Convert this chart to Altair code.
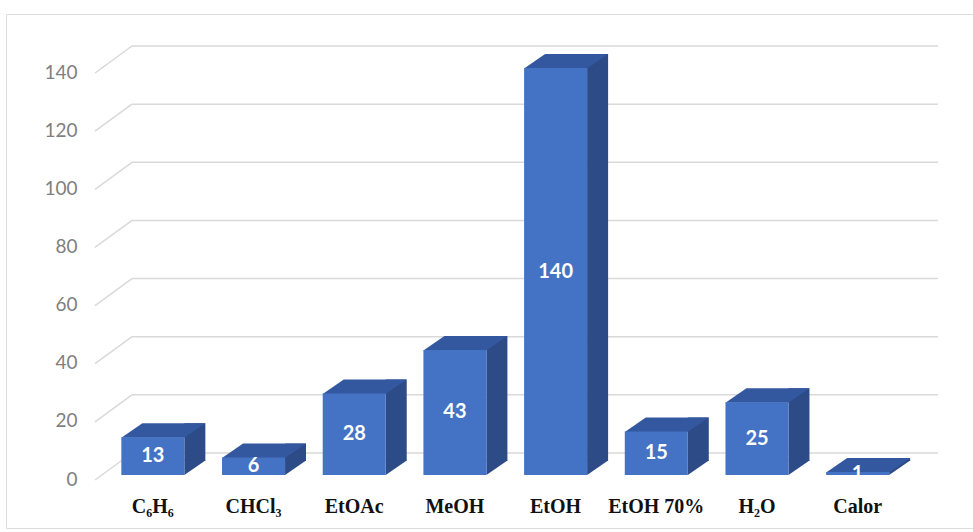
import altair as alt
import pandas as pd

categories = ["C₆H₆", "CHCl₃", "EtOAc", "MeOH", "EtOH", "EtOH 70%", "H₂O", "Calor"]
values = [13, 6, 28, 43, 140, 15, 25, 1]
y_ticks = [0, 20, 40, 60, 80, 100, 120, 140]

df = pd.DataFrame({"cat": categories, "val": values})
df["mid"] = df["val"] / 2
ticks_df = pd.DataFrame({"t": y_ticks})

FRONT = "#4472C4"
TOP = "#34589F"
SIDE = "#2C4B87"
GRID = "#D9D9D9"

x_enc = alt.X("cat:N", sort=categories,
              scale=alt.Scale(range=[96.5, 902], paddingInner=0, paddingOuter=0),
              axis=alt.Axis(title=None, labelAngle=0, domain=False, ticks=False, tickSize=0,
                            labelFont="Liberation Serif", labelFontWeight="bold",
                            labelFontSize=20, labelColor="#111111", labelPadding=2,
                            labelBaseline="alphabetic", offset=-18, grid=False))
y_scale = alt.Scale(domain=[0, 140], range=[461, 54], nice=False, zero=True)
y_axis = alt.Axis(title=None, values=y_ticks, domain=False, ticks=False, tickSize=0,
                  grid=False, labelFont="Lato", labelFontSize=19,
                  labelColor="#7F7F7F", labelPadding=2, offset=-73, labelOffset=4)

# back wall grid lines
back = alt.Chart(ticks_df).mark_rule(color=GRID, strokeWidth=1.5, yOffset=-22).encode(
    y=alt.Y("t:Q", scale=y_scale, axis=y_axis),
    x=alt.value(126), x2=alt.value(932))
# left wall diagonals
diag = alt.Chart(ticks_df).mark_point(shape="M 0 0 L 37 -27", size=4, filled=False,
                                      stroke=GRID, strokeWidth=1.5, opacity=1, yOffset=5).encode(
    y=alt.Y("t:Q", scale=y_scale), x=alt.value(89))

base = alt.Chart(df)
side = base.mark_bar(width=21, xOffset=42, yOffset=-14, y2Offset=-14, color=SIDE).encode(
    x=x_enc, y=alt.Y("val:Q", scale=y_scale))
tri = base.mark_point(shape="M 31.5 0 L 31.5 -14.5 L 52.5 -14.5 Z", size=4, filled=True,
                      fill=SIDE, strokeWidth=0, opacity=1).encode(
    x=alt.X("cat:N", sort=categories), y=alt.datum(0))
top = base.mark_point(shape="M -31.5 0.5 L 31.5 0.5 L 52.5 -14 L -10.5 -14 Z", size=4, filled=True,
                      fill=TOP, strokeWidth=0, opacity=1).encode(
    x=alt.X("cat:N", sort=categories), y="val:Q")
front = base.mark_bar(width=63, color=FRONT).encode(x=alt.X("cat:N", sort=categories), y="val:Q")
labels = base.mark_text(color="white", font="Lato", fontWeight="bold", fontSize=20).encode(
    x=alt.X("cat:N", sort=categories), y="mid:Q", text="val:Q")

chart = alt.layer(back, diag, side, tri, top, front, labels).properties(
    width=967, height=514,
    autosize=alt.AutoSizeParams(type="none"),
    padding={"left": 6, "top": 14, "right": 0, "bottom": 4},
).configure_view(stroke=GRID, strokeWidth=1.5).configure(background="white")

chart.save("out.html", embed_options={"renderer": "svg", "actions": False})
